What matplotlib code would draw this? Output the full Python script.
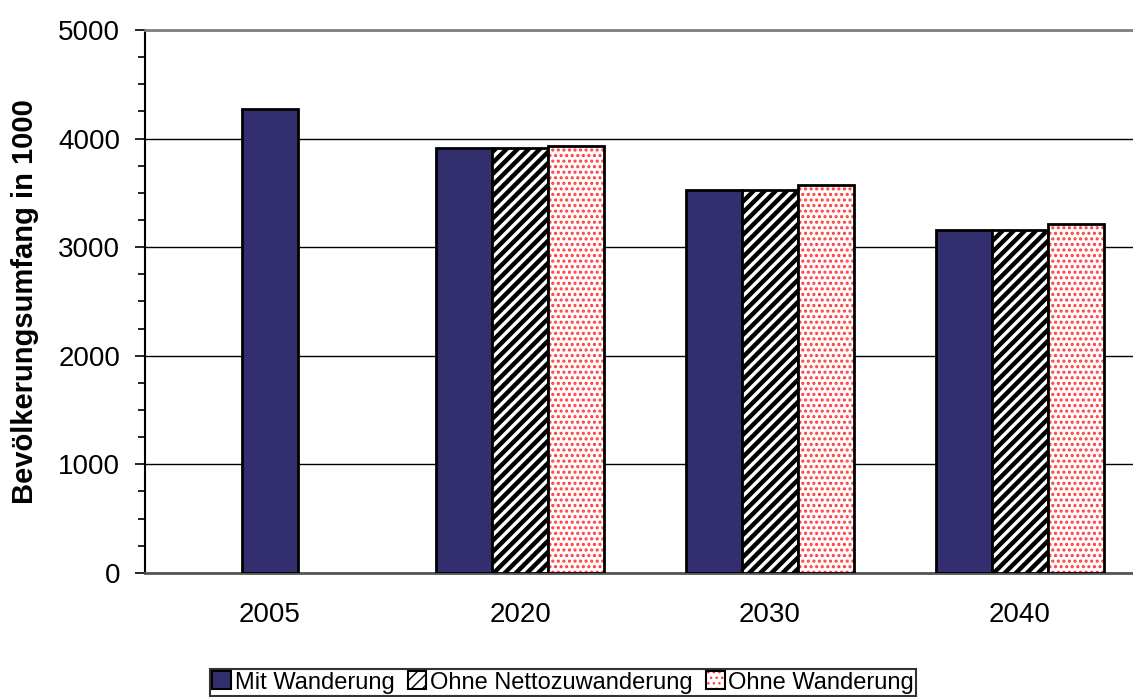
import matplotlib.pyplot as plt
import numpy as np
from matplotlib.patches import Patch
from matplotlib.legend_handler import HandlerTuple
from matplotlib.ticker import MultipleLocator

years = ['2005', '2020', '2030', '2040']
mit_wanderung = [4274, 3915, 3530, 3155]
ohne_netto = [np.nan, 3915, 3530, 3155]
ohne_wanderung = [np.nan, 3935, 3568, 3214]

navy = '#332e6e'
dot_red = '#ff3c3c'

plt.rcParams['font.family'] = ['Liberation Sans', 'DejaVu Sans']

fig = plt.figure(figsize=(11.33, 6.97), dpi=100)
ax = fig.add_axes([0.128, 0.178, 0.8826, 0.779])

w = 0.224
x = np.arange(len(years))
# 2005 only has one bar -> centred, others grouped by three
off_mit = np.array([0, -w, -w, -w])

ax.bar(x + off_mit, mit_wanderung, w, color=navy, edgecolor='black', lw=2, zorder=3)
with plt.rc_context({'hatch.linewidth': 3.2}):
    ax.bar(x, ohne_netto, w, color='white', edgecolor='black', hatch='///', lw=2, zorder=3)
    h2 = Patch(facecolor='white', edgecolor='black', hatch='///', lw=1.5)
with plt.rc_context({'hatch.linewidth': 1.5}):
    ax.bar(x + w, ohne_wanderung, w, color='white', edgecolor=dot_red, hatch='...', lw=0, zorder=3)
    h3a = Patch(facecolor='white', edgecolor=dot_red, hatch='...', lw=0)
ax.bar(x + w, ohne_wanderung, w, fill=False, edgecolor='black', lw=2, zorder=4)

ax.set_xlim(-0.5, 3.5)
ax.set_ylim(0, 5000)
ax.set_xticks(x)
ax.set_xticklabels(years)
ax.tick_params(axis='x', length=0, pad=21, labelsize=20)
ax.yaxis.set_major_locator(MultipleLocator(1000))
ax.yaxis.set_minor_locator(MultipleLocator(250))
ax.tick_params(axis='y', which='major', length=7, width=1.2, labelsize=20, pad=11)
ax.tick_params(axis='y', which='minor', length=5, width=1.2)
ax.grid(axis='y', color='black', lw=1, zorder=0)
ax.set_axisbelow(True)

ax.spines['right'].set_visible(False)
ax.spines['top'].set_color('#808080')
ax.spines['top'].set_linewidth(2)
ax.spines['left'].set_linewidth(1.5)
ax.spines['bottom'].set_color('#555555')
ax.spines['bottom'].set_linewidth(2)

ax.set_ylabel('Bevölkerungsumfang in 1000', fontsize=21, fontweight='bold', labelpad=14)

h1 = Patch(facecolor=navy, edgecolor='black', lw=1.5)
h3 = (h3a, Patch(fill=False, edgecolor='black', lw=1.5))
leg = fig.legend([h1, h2, h3],
                 ['Mit Wanderung', 'Ohne Nettozuwanderung', 'Ohne Wanderung'],
                 handler_map={tuple: HandlerTuple(ndivide=1)},
                 loc='upper center', bbox_to_anchor=(0.497, 1 - 669 / 697),
                 ncol=3, fontsize=17,
                 frameon=True, fancybox=False, edgecolor='black',
                 handlelength=0.8, handleheight=0.8, handletextpad=0.15,
                 columnspacing=0.55, borderpad=0.1, borderaxespad=0)
leg.get_frame().set_linewidth(1.5)

fig.savefig('out.png', dpi=100)
